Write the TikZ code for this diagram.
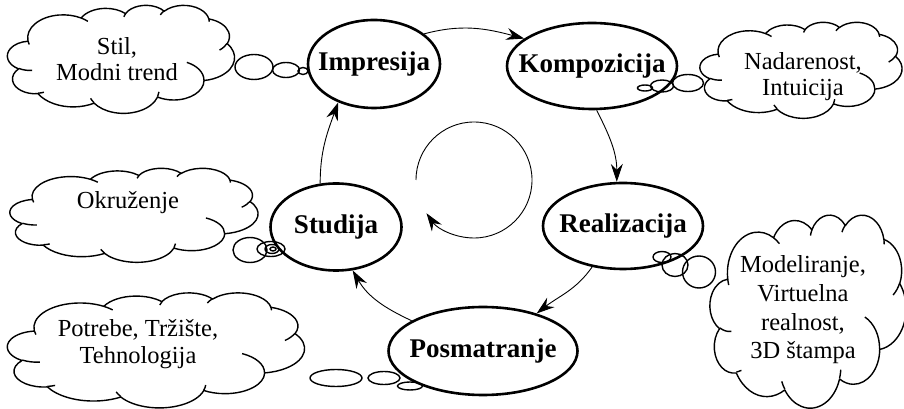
\documentclass[tikz,border=0pt]{standalone}
\usepackage{fontspec}
\setmainfont{Liberation Serif}
\usetikzlibrary{shapes.geometric,arrows.meta}

% parameter angle of the cloud ellipse (radii #1,#2) seen under angle #3
\newcommand\cpar[3]{atan2(sin(#3)/#2, cos(#3)/#1)}
% one elliptic arc of the cloud outline: radii #1,#2, start angle #3, sweep #4
\newcommand\oarc[4]{arc[x radius=#1, y radius=#2,
  start angle={\cpar{#1}{#2}{#3}},
  delta angle={mod(\cpar{#1}{#2}{#3+#4}-\cpar{#1}{#2}{#3}+720,360)}]}
% cloud outline with its creases: centre (#1,#2), width #3, height #4
\newcommand\puffcloud[4]{%
  \begin{scope}[shift={(#1-#3/2,#2+#4/2)}, x={(#3pt,0pt)}, y={(0pt,-#4pt)}]
    \draw[cloudline] (0.090278,0.332639)
      \oarc{0.156319}{0.212731}{-190.4875}{123.7805}
      \oarc{0.123449}{0.168218}{-144.1024}{89.9452}
      \oarc{0.101042}{0.137616}{-145.8079}{99.7230}
      \oarc{0.112431}{0.152662}{-130.9861}{117.2417}
      \oarc{0.123449}{0.168356}{-78.7089}{109.0269}
      \oarc{0.156829}{0.213426}{-46.2673}{130.2690}
      \oarc{0.133912}{0.182106}{0.6250}{114.0333}
      \oarc{0.156296}{0.213310}{22.4516}{115.1726}
      \oarc{0.178704}{0.244051}{66.2426}{75.7110}
      \oarc{0.100926}{0.136991}{-274.9421}{146.7356}
      \oarc{0.100579}{0.137616}{-246.8285}{152.5189}
      -- cycle;
    \draw[cloudline]
      (0.108634,0.605949) \oarc{0.100579}{0.137616}{86.7420}{26.4295}
      (0.160370,0.807847) \oarc{0.100926}{0.136991}{73.6105}{11.4475}
      (0.381435,0.904861) \oarc{0.156296}{0.213310}{137.6242}{14.0811}
      (0.667292,0.804421) \oarc{0.156296}{0.213310}{6.4533}{15.9984}
      (0.790023,0.531343) \oarc{0.133912}{0.182106}{-70.2924}{70.9174}
      (0.967546,0.355417) \oarc{0.123449}{0.168356}{30.3180}{27.7515}
      (0.887130,0.125602) \oarc{0.112431}{0.152662}{-13.7443}{14.8589}
      (0.673102,0.091481) \oarc{0.112431}{0.152662}{-149.1815}{18.1954}
      (0.512523,0.109259) \oarc{0.101042}{0.137616}{-163.4943}{17.6864}
      (0.324074,0.120185) \oarc{0.156319}{0.212731}{-66.7070}{12.3194}
      (0.095532,0.365486) \oarc{0.156319}{0.212731}{157.6544}{11.8582};
  \end{scope}}

\begin{document}
\begin{tikzpicture}[x=1pt,y=1pt,
  stage/.style={ellipse, draw, line width=2.6pt, inner sep=0pt,
    font=\fontsize{27}{30}\selectfont\bfseries},
  cloudline/.style={line width=1.4pt, line join=round},
  thinktext/.style={align=center, font=\fontsize{24.5}{26}\selectfont},
  bubble/.style={ellipse, draw, line width=1.4pt, inner sep=0pt},
  flow/.style={line width=0.9pt, -{Stealth[length=18pt,width=12pt,inset=6pt]}}
]
\useasboundingbox (0,0) rectangle (904,409);

% stages of the cycle
\node[stage, minimum width=132pt, minimum height=88pt] (imp) at (374,345) {\makebox[0pt]{Impresija}};
\node[stage, minimum width=170pt, minimum height=86pt] (komp) at (592,343) {\makebox[0pt]{Kompozicija}};
\node[stage, minimum width=160pt, minimum height=86pt] (real) at (623,183) {\makebox[0pt]{Realizacija}};
\node[stage, minimum width=189pt, minimum height=88pt] (posm) at (483,58) {\makebox[0pt]{Posmatranje}};
\node[stage, minimum width=131pt, minimum height=87pt] (stud) at (336,182) {\makebox[0pt]{Studija}};

% cycle arrows
\draw[flow] (imp.31) to[out=15,in=165] (komp.158);
\draw[flow] (komp.-84) to[out=-63,in=90] (real.98);
\draw[flow] (real.-127) to[out=-125,in=38] (posm.35);
\draw[flow] (posm.157) to[out=155,in=-60] (stud.-69);
\draw[flow] (stud.110) to[out=90,in=-110] (imp.-133);

% central rotation sign
\coordinate (loop) at (416,229);
\draw[flow] (loop) arc[start angle=180, end angle=-145, radius=58pt];

% thought clouds
\puffcloud{121}{350}{227}{108}
\node[thinktext] (t1) at (117,350) {Stil,\\Modni trend};
\puffcloud{801}{339}{202}{96}
\node[thinktext] (t2) at (803,332) {Nadarenost,\\Intuicija};
\puffcloud{134}{194}{248}{94}
\node[thinktext] (t3) at (128,206) {Okruženje};
\puffcloud{808}{98}{196}{193}
\node[thinktext, font=\fontsize{24.5}{28.7}\selectfont] (t4) at (803,99) {Modeliranje,\\Virtuelna\\realnost,\\3D štampa};
\puffcloud{156}{59}{297}{115}
\node[thinktext, font=\fontsize{24.5}{27}\selectfont] (t5) at (138,65) {Potrebe, Tržište,\\Tehnologija};

% thought bubbles
\node[bubble, minimum width=38pt, minimum height=25pt] (b11) at (254,342) {};
\node[bubble, minimum width=27pt, minimum height=15pt] (b12) at (286,339) {};
\node[bubble, minimum width=10pt, minimum height=7pt] (b13) at (303,338) {};

\node[bubble, minimum width=31pt, minimum height=17pt] (b21) at (688,326) {};
\node[bubble, minimum width=23pt, minimum height=12pt] (b22) at (662,323) {};
\node[bubble, minimum width=15pt, minimum height=6pt] (b23) at (645,321) {};

\node[bubble, minimum width=34pt, minimum height=25pt] (b31) at (250,159) {};
\node[bubble, minimum width=28pt, minimum height=15pt] (b32) at (271,160) {};
\node[bubble, minimum width=14pt, minimum height=9pt] (b33) at (272,160) {};
\node[bubble, minimum width=6pt, minimum height=4pt] (b34) at (273,160) {};

\node[bubble, minimum width=33pt, minimum height=32pt] (b41) at (699,137) {};
\node[bubble, minimum width=26pt, minimum height=23pt] (b42) at (675,144) {};
\node[bubble, minimum width=18pt, minimum height=11pt] (b43) at (662,152) {};

\node[bubble, minimum width=52pt, minimum height=17pt] (b51) at (336,31) {};
\node[bubble, minimum width=32pt, minimum height=13pt] (b52) at (384,31) {};
\node[bubble, minimum width=25pt, minimum height=8pt] (b53) at (410,23) {};
\end{tikzpicture}
\end{document}
